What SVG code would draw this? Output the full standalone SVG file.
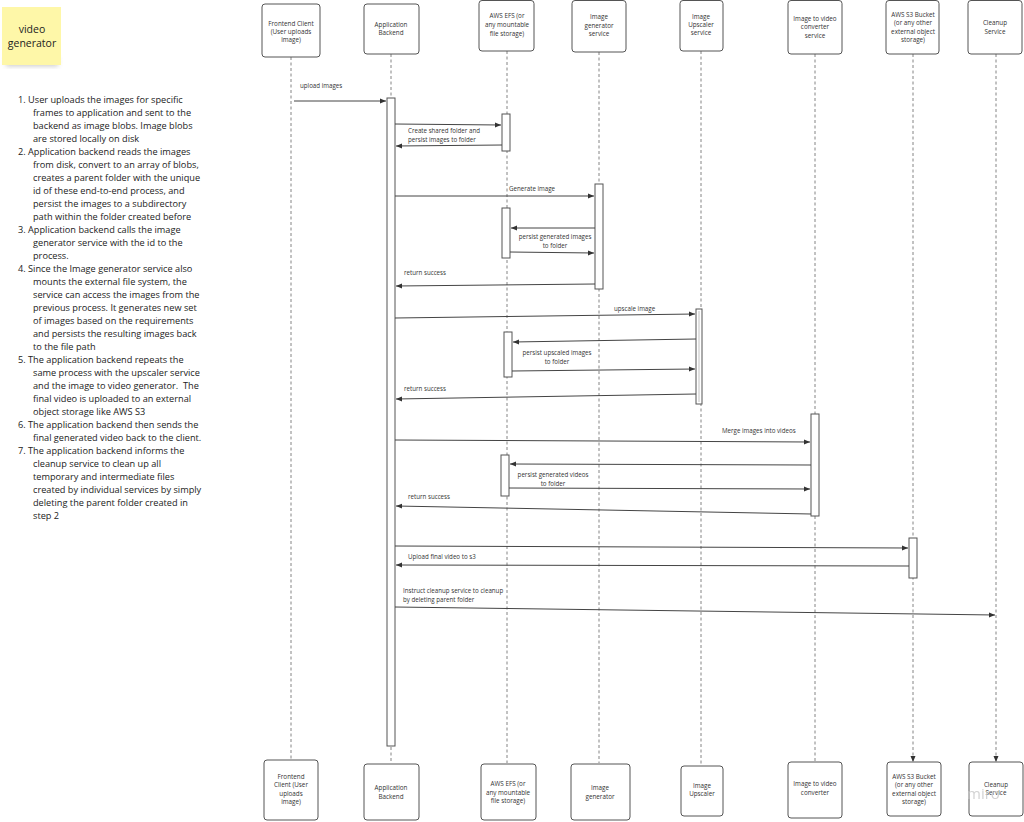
<svg xmlns="http://www.w3.org/2000/svg" width="1024" height="822" viewBox="0 0 1024 822">
<style>
.box{fill:#fff;stroke:#555;stroke-width:1}
.nt{font-family:"Open Sans","Liberation Sans",sans-serif;font-size:6.3px;fill:#333;text-anchor:middle}
.ml{font-family:"Open Sans","Liberation Sans",sans-serif;font-size:6.2px;fill:#333}
.mlc{font-family:"Open Sans","Liberation Sans",sans-serif;font-size:6.2px;fill:#333;text-anchor:middle}
.life{stroke:#666;stroke-width:0.8;stroke-dasharray:3 2.5;fill:none}
.act{fill:#fff;stroke:#555;stroke-width:1}
.msg{stroke:#444;stroke-width:1;fill:none;marker-end:url(#ah)}
.lst{font-family:"Open Sans","Liberation Sans",sans-serif;font-size:9.2px;fill:#222}
</style>
<defs>
<marker id="ah" viewBox="0 0 6 6" refX="6" refY="3" markerWidth="6" markerHeight="6" markerUnits="userSpaceOnUse" orient="auto">
<path d="M0,0.5 L6,3 L0,5.5 Z" fill="#333"/>
</marker>
<filter id="sh" x="-30%" y="-30%" width="160%" height="160%"><feGaussianBlur stdDeviation="2.5"/></filter>
</defs>
<rect width="1024" height="822" fill="#fff"/>

<g id="sticky">
<rect x="6" y="58" width="52" height="8" fill="#888" opacity="0.45" filter="url(#sh)"/>
<rect x="2" y="7" width="59" height="58" fill="#fef7a8"/>
<text x="32" y="33" font-family="'Open Sans','Liberation Sans',sans-serif" font-size="10.5" fill="#222" text-anchor="middle">video</text>
<text x="32" y="47" font-family="'Open Sans','Liberation Sans',sans-serif" font-size="10.5" fill="#222" text-anchor="middle">generator</text>
</g>

<g id="notes" class="lst">
<text x="18" y="103" class="lst">1. User uploads the images for specific</text>
<text x="33" y="116" class="lst">frames to application and sent to the</text>
<text x="33" y="129" class="lst">backend as image blobs. Image blobs</text>
<text x="33" y="142" class="lst">are stored locally on disk</text>
<text x="18" y="155" class="lst">2. Application backend reads the images</text>
<text x="33" y="168" class="lst">from disk, convert to an array of blobs,</text>
<text x="33" y="181" class="lst">creates a parent folder with the unique</text>
<text x="33" y="194" class="lst">id of these end-to-end process, and</text>
<text x="33" y="207" class="lst">persist the images to a subdirectory</text>
<text x="33" y="220" class="lst">path within the folder created before</text>
<text x="18" y="233" class="lst">3. Application backend calls the image</text>
<text x="33" y="246" class="lst">generator service with the id to the</text>
<text x="33" y="259" class="lst">process.</text>
<text x="18" y="272" class="lst">4. Since the Image generator service also</text>
<text x="33" y="285" class="lst">mounts the external file system, the</text>
<text x="33" y="298" class="lst">service can access the images from the</text>
<text x="33" y="311" class="lst">previous process. It generates new set</text>
<text x="33" y="324" class="lst">of images based on the requirements</text>
<text x="33" y="337" class="lst">and persists the resulting images back</text>
<text x="33" y="350" class="lst">to the file path</text>
<text x="18" y="363" class="lst">5. The application backend repeats the</text>
<text x="33" y="376" class="lst">same process with the upscaler service</text>
<text x="33" y="389" class="lst" xml:space="preserve">and the image to video generator.  The</text>
<text x="33" y="402" class="lst">final video is uploaded to an external</text>
<text x="33" y="415" class="lst">object storage like AWS S3</text>
<text x="18" y="428" class="lst">6. The application backend then sends the</text>
<text x="33" y="441" class="lst">final generated video back to the client.</text>
<text x="18" y="454" class="lst">7. The application backend informs the</text>
<text x="33" y="467" class="lst">cleanup service to clean up all</text>
<text x="33" y="480" class="lst">temporary and intermediate files</text>
<text x="33" y="493" class="lst">created by individual services by simply</text>
<text x="33" y="506" class="lst">deleting the parent folder created in</text>
<text x="33" y="519" class="lst">step 2</text>
</g>

<g id="lifelines">
<line class="life" x1="291" y1="57" x2="291" y2="759"/>
<line class="life" x1="391" y1="54" x2="391" y2="763"/>
<line class="life" x1="507" y1="51" x2="507" y2="763"/>
<line class="life" x1="599" y1="52" x2="599" y2="763"/>
<line class="life" x1="701" y1="51" x2="701" y2="765"/>
<line class="life" x1="815" y1="54" x2="815" y2="762"/>
<line class="life" x1="913" y1="54" x2="913" y2="762" marker-end="url(#ah)"/>
<line class="life" x1="996" y1="54" x2="996" y2="762" marker-end="url(#ah)"/>
</g>

<g id="node-frontend">
<rect class="box" x="262" y="4" width="58" height="53" rx="3"/>
<text class="nt" x="291" y="26">Frontend Client</text>
<text class="nt" x="291" y="34">(User uploads</text>
<text class="nt" x="291" y="42">image)</text>
<rect class="box" x="264" y="760" width="54" height="60" rx="3"/>
<text class="nt" x="291" y="779">Frontend</text>
<text class="nt" x="291" y="787">Client (User</text>
<text class="nt" x="291" y="796">uploads</text>
<text class="nt" x="291" y="804">image)</text>
</g>

<g id="node-backend">
<rect class="box" x="364" y="4" width="55" height="50" rx="3"/>
<text class="nt" x="391" y="27">Application</text>
<text class="nt" x="391" y="35">Backend</text>
<rect class="box" x="364" y="764" width="55" height="56" rx="3"/>
<text class="nt" x="391" y="790">Application</text>
<text class="nt" x="391" y="799">Backend</text>
<rect class="act" x="387" y="98" width="8" height="648"/>
</g>

<g id="node-efs">
<rect class="box" x="479" y="0.5" width="55" height="50.5" rx="3"/>
<text class="nt" x="507" y="18">AWS EFS (or</text>
<text class="nt" x="507" y="27">any mountable</text>
<text class="nt" x="507" y="36">file storage)</text>
<rect class="box" x="481" y="764" width="55" height="56" rx="3"/>
<text class="nt" x="508" y="786">AWS EFS (or</text>
<text class="nt" x="508" y="795">any mountable</text>
<text class="nt" x="508" y="803">file storage)</text>
<rect class="act" x="502" y="114" width="8" height="37"/>
<rect class="act" x="502" y="208" width="8" height="50"/>
<rect class="act" x="504" y="332" width="8" height="45"/>
<rect class="act" x="501" y="455" width="8" height="41"/>
</g>

<g id="node-imagegen">
<rect class="box" x="572" y="0.5" width="54" height="51.5" rx="3"/>
<text class="nt" x="599" y="19">Image</text>
<text class="nt" x="599" y="28">generator</text>
<text class="nt" x="599" y="36">service</text>
<rect class="box" x="571" y="764" width="59" height="56" rx="3"/>
<text class="nt" x="600" y="790">Image</text>
<text class="nt" x="600" y="799">generator</text>
<rect class="act" x="595" y="184" width="8" height="105"/>
</g>

<g id="node-upscaler">
<rect class="box" x="680" y="0.5" width="43" height="50.5" rx="3"/>
<text class="nt" x="701" y="19">Image</text>
<text class="nt" x="701" y="27">Upscaler</text>
<text class="nt" x="701" y="35">service</text>
<rect class="box" x="681" y="766" width="42" height="50" rx="3"/>
<text class="nt" x="702" y="788">Image</text>
<text class="nt" x="702" y="796">Upscaler</text>
<rect class="act" x="696" y="309" width="6" height="95"/>
<line x1="699" y1="311" x2="699" y2="402" stroke="#999" stroke-width="0.6"/>
</g>

<g id="node-converter">
<rect class="box" x="788" y="0.5" width="54" height="53.5" rx="3"/>
<text class="nt" x="815" y="21">Image to video</text>
<text class="nt" x="815" y="29">converter</text>
<text class="nt" x="815" y="38">service</text>
<rect class="box" x="788" y="762" width="54" height="56" rx="3"/>
<text class="nt" x="815" y="786">Image to video</text>
<text class="nt" x="815" y="795">converter</text>
<rect class="act" x="811" y="414" width="8" height="102"/>
</g>

<g id="node-s3">
<rect class="box" x="886" y="0.5" width="53" height="53.5" rx="3"/>
<text class="nt" x="913" y="17">AWS S3 Bucket</text>
<text class="nt" x="913" y="25">(or any other</text>
<text class="nt" x="913" y="34">external object</text>
<text class="nt" x="913" y="42">storage)</text>
<rect class="box" x="887" y="762" width="54" height="54" rx="3"/>
<text class="nt" x="914" y="779">AWS S3 Bucket</text>
<text class="nt" x="914" y="787">(or any other</text>
<text class="nt" x="914" y="796">external object</text>
<text class="nt" x="914" y="804">storage)</text>
<rect class="act" x="909" y="538" width="8" height="40"/>
</g>

<g id="node-cleanup">
<rect class="box" x="968" y="0.5" width="54" height="53.5" rx="3"/>
<text class="nt" x="995" y="25">Cleanup</text>
<text class="nt" x="995" y="34">Service</text>
<rect class="box" x="969" y="762" width="54" height="54" rx="3"/>
<text class="nt" x="996" y="787">Cleanup</text>
<text class="nt" x="996" y="795">Service</text>
<text x="967" y="799" font-family="'Open Sans','Liberation Sans',sans-serif" font-size="15" fill="#c8c8c8" opacity="0.8">miro</text>
</g>

<g id="connectors">
<line class="msg" x1="294" y1="101" x2="386" y2="101"/>
<text class="ml" x="300" y="88">upload images</text>

<line class="msg" x1="395" y1="124" x2="501" y2="125"/>
<line class="msg" x1="502" y1="145" x2="396" y2="146"/>
<text class="ml" x="408" y="133">Create shared folder and</text>
<text class="ml" x="408" y="142">persist images to folder</text>

<line class="msg" x1="395" y1="196" x2="594" y2="196"/>
<text class="ml" x="509" y="191">Generate image</text>

<line class="msg" x1="595" y1="228" x2="511" y2="228"/>
<line class="msg" x1="510" y1="252" x2="594" y2="253"/>
<text class="mlc" x="555" y="239">persist generated images</text>
<text class="mlc" x="555" y="248">to folder</text>

<line class="msg" x1="595" y1="284" x2="396" y2="286"/>
<text class="ml" x="404" y="275">return success</text>

<line class="msg" x1="395" y1="318" x2="695" y2="314"/>
<text class="ml" x="614" y="311">upscale image</text>

<line class="msg" x1="696" y1="339" x2="513" y2="342"/>
<line class="msg" x1="512" y1="371" x2="695" y2="369"/>
<text class="mlc" x="557" y="355">persist upscaled images</text>
<text class="mlc" x="557" y="364">to folder</text>

<line class="msg" x1="696" y1="394" x2="396" y2="399"/>
<text class="ml" x="404" y="391">return success</text>

<line class="msg" x1="395" y1="440" x2="810" y2="442"/>
<text class="ml" x="722" y="433">Merge images into videos</text>

<line class="msg" x1="811" y1="465" x2="510" y2="464"/>
<line class="msg" x1="509" y1="488" x2="810" y2="489"/>
<text class="mlc" x="553" y="477">persist generated videos</text>
<text class="mlc" x="553" y="486">to folder</text>

<line class="msg" x1="811" y1="514" x2="396" y2="506"/>
<text class="ml" x="408" y="499">return success</text>

<line class="msg" x1="395" y1="546" x2="908" y2="548"/>
<line class="msg" x1="909" y1="566" x2="396" y2="565"/>
<text class="ml" x="408" y="559">Upload final video to s3</text>

<line class="msg" x1="395" y1="607" x2="995" y2="615"/>
<text class="ml" x="403" y="593">Instruct cleanup service to cleanup</text>
<text class="ml" x="403" y="602">by deleting parent folder</text>
</g>
</svg>
